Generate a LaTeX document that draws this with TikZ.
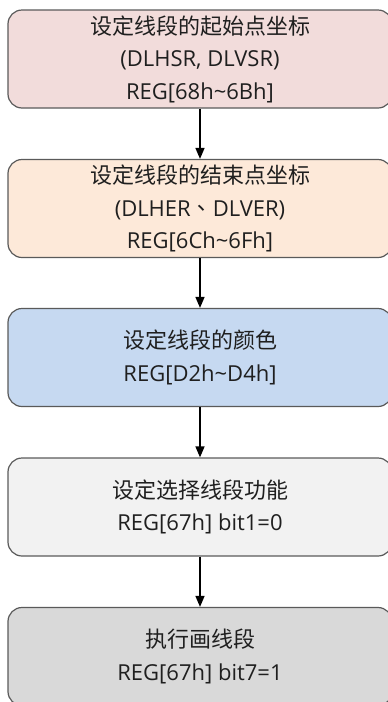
\documentclass[tikz,border=0pt]{standalone}
\usepackage{fontspec}
\setmainfont{Open Sans}
\newfontfamily\cjk{Noto Sans CJK SC}
\newfontfamily\cjktc{Noto Sans CJK TC}
\usetikzlibrary{arrows.meta}
\definecolor{cone}{HTML}{F2DCDB}
\definecolor{ctwo}{HTML}{FDE9D9}
\definecolor{cthree}{HTML}{C6D9F1}
\definecolor{cfour}{HTML}{F2F2F2}
\definecolor{cfive}{HTML}{D9D9D9}
\definecolor{bordergray}{HTML}{5A5A5A}
\definecolor{txt}{HTML}{1F1F1F}
\begin{document}
\begin{tikzpicture}[x=1pt,y=-1pt,
  box/.style={draw=bordergray, line width=1.2pt, rounded corners=14pt,
    minimum width=384pt, minimum height=98pt, align=center, inner sep=0pt,
    font=\fontsize{22}{32.5}\selectfont, text=txt},
  arr/.style={line width=1.5pt, -{Triangle[width=9pt,length=11pt]}}]
\useasboundingbox (0,0) rectangle (388,702);
\clip (0,0) rectangle (388,702);
\node[box, fill=cone] (b1) at (200,59) {{\cjk 设定线段的起始点坐标}\\(DLHSR, DLVSR)\\REG[68h\textasciitilde 6Bh]};
\node[box, fill=ctwo] (b2) at (200,208.5) {{\cjk 设定线段的结束点坐标}\\(DLHER{\cjktc 、}DLVER)\\REG[6Ch\textasciitilde 6Fh]};
\node[box, fill=cthree] (b3) at (200,357.5) {{\cjk 设定线段的颜色}\\REG[D2h\textasciitilde D4h]};
\node[box, fill=cfour] (b4) at (200,507) {{\cjk 设定选择线段功能}\\REG[67h] bit1=0};
\node[box, fill=cfive] (b5) at (200,656.5) {{\cjk 执行画线段}\\REG[67h] bit7=1};
\draw[arr] (b1.south) -- (b2.north);
\draw[arr] (b2.south) -- (b3.north);
\draw[arr] (b3.south) -- (b4.north);
\draw[arr] (b4.south) -- (b5.north);
\end{tikzpicture}
\end{document}
